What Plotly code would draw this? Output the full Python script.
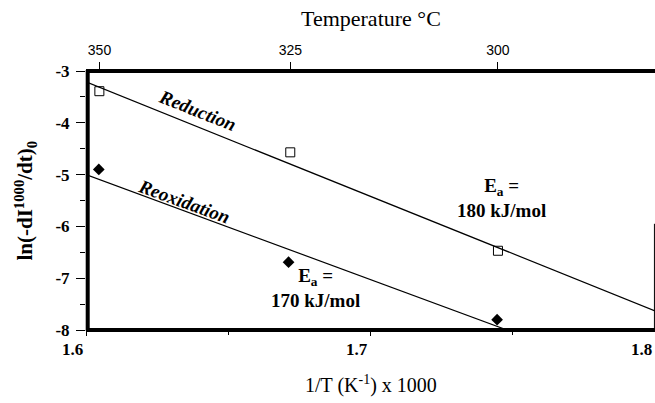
import plotly.graph_objects as go

# ---- data ----
red_x = [1.6047, 1.6718, 1.7448]          # 1/T x 1000 (Reduction)
red_y = [-3.39, -4.57, -6.47]             # ln(-dI/dt)
reox_x = [1.6045, 1.6712, 1.7445]         # Reoxidation
reox_y = [-4.90, -6.69, -7.80]
red_fit_x = [1.6, 1.8]
red_fit_y = [-3.21, -7.63]
reox_fit_x = [1.6, 1.748]
reox_fit_y = [-5.0, -8.0]
temp_ticks_c = [350, 325, 300]
x_ticks = [1.6, 1.7, 1.8]
x_tick_labels = ["1.6", "1.7", "1.8"]
y_ticks = [-3, -4, -5, -6, -7, -8]

serif = "Liberation Serif, Times New Roman, serif"
sans = "Liberation Sans, Arial, sans-serif"

fig = go.Figure()
fig.add_trace(go.Scatter(x=red_fit_x, y=red_fit_y, mode="lines",
                         line=dict(color="black", width=1.2), showlegend=False))
fig.add_trace(go.Scatter(x=reox_fit_x, y=reox_fit_y, mode="lines",
                         line=dict(color="black", width=1.2), showlegend=False))
fig.add_trace(go.Scatter(x=red_x, y=red_y, mode="markers",
                         marker=dict(symbol="square-open", size=9, color="black", line=dict(width=1)),
                         showlegend=False))
fig.add_trace(go.Scatter(x=reox_x, y=reox_y, mode="markers",
                         marker=dict(symbol="diamond", size=9, color="black"),
                         showlegend=False))
# dummy trace for top axis
fig.add_trace(go.Scatter(x=[1.7], y=[-5], xaxis="x2", mode="markers",
                         marker=dict(opacity=0), showlegend=False, hoverinfo="skip"))

top_vals = [1000.0 / (t + 273.15) for t in temp_ticks_c]

fig.update_layout(
    width=655, height=403,
    margin=dict(l=86, r=0, t=71, b=73),
    plot_bgcolor="white", paper_bgcolor="white",
    xaxis=dict(range=[1.6, 1.8], tickvals=x_ticks, showticklabels=False,
               ticks="outside", ticklen=5, tickcolor="black", tickwidth=1,
               minor=dict(tickvals=[1.65, 1.75], ticks="outside", ticklen=4, tickcolor="black"),
               showgrid=False, zeroline=False, showline=False),
    xaxis2=dict(range=[1.6, 1.8], overlaying="x", side="top", tickvals=top_vals,
                ticktext=[str(t) for t in temp_ticks_c], ticks="outside", ticklen=8,
                tickcolor="black", showgrid=False, zeroline=False, showline=False,
                tickfont=dict(family=sans, size=14, color="black"), ticklabelstandoff=1),
    yaxis=dict(range=[-8, -3], tickvals=y_ticks, ticktext=[str(v) for v in y_ticks],
               ticks="outside", ticklen=9, tickcolor="black",
               minor=dict(tickvals=[-3.5, -4.5, -5.5, -6.5, -7.5], ticks="outside", ticklen=5, tickcolor="black"),
               showgrid=False, zeroline=False, showline=False,
               tickfont=dict(family=serif, size=17, color="black", weight="bold"),
               ticklabelstandoff=3),
)

# frame
fig.add_shape(type="line", xref="paper", yref="paper", x0=0.003, x1=0.003, y0=-0.004, y1=1.004,
              line=dict(color="black", width=4))
fig.add_shape(type="line", xref="paper", yref="paper", x0=0, x1=1, y0=1, y1=1,
              line=dict(color="black", width=4))
fig.add_shape(type="line", xref="paper", yref="paper", x0=0, x1=1, y0=0, y1=0,
              line=dict(color="black", width=4))
fig.add_shape(type="line", xref="paper", yref="y", x0=0.999, x1=0.999, y0=-5.95, y1=-8,
              line=dict(color="black", width=1))

ann = []
for v, t in zip(x_ticks, x_tick_labels):
    ann.append(dict(text="<b>" + t + "</b>", x=v, xref="x", y=0, yref="paper",
                    xanchor="right", yanchor="top", xshift=-1, yshift=-8, showarrow=False,
                    font=dict(family=serif, size=17, color="black")))
ann.append(dict(text="Temperature °C", xref="paper", yref="paper", x=0.5, y=1,
                xanchor="center", yanchor="bottom", yshift=38, showarrow=False,
                font=dict(family=serif, size=22, color="black")))
ann.append(dict(text="1/T (K<sup>-1</sup>) x 1000", xref="paper", yref="paper", x=0.5, y=0,
                xanchor="center", yanchor="top", yshift=-40, showarrow=False,
                font=dict(family=serif, size=20, color="black")))
ann.append(dict(text="<b>ln(-dI<sup>1000</sup>/dt)<sub>0</sub></b>", xref="paper", yref="paper",
                x=0, y=0.5, xshift=-61, textangle=-90, xanchor="center", yanchor="middle",
                showarrow=False, font=dict(family=serif, size=21, color="black")))
ann.append(dict(text="<b><i>Reduction</i></b>", x=1.6393, y=-3.76, textangle=21.7, showarrow=False,
                font=dict(family=serif, size=19, color="black")))
ann.append(dict(text="<b><i>Reoxidation</i></b>", x=1.6345, y=-5.52, textangle=20, showarrow=False,
                font=dict(family=serif, size=19, color="black")))
ann.append(dict(text="<b>E<sub>a</sub> =</b><br><b>180 kJ/mol</b>", x=1.7462, y=-5.45, showarrow=False,
                font=dict(family=serif, size=19, color="black")))
ann.append(dict(text="<b>E<sub>a</sub> =</b><br><b>170 kJ/mol</b>", x=1.6808, y=-7.19, showarrow=False,
                font=dict(family=serif, size=19, color="black")))
fig.update_layout(annotations=ann)

fig.write_html("out.html")
